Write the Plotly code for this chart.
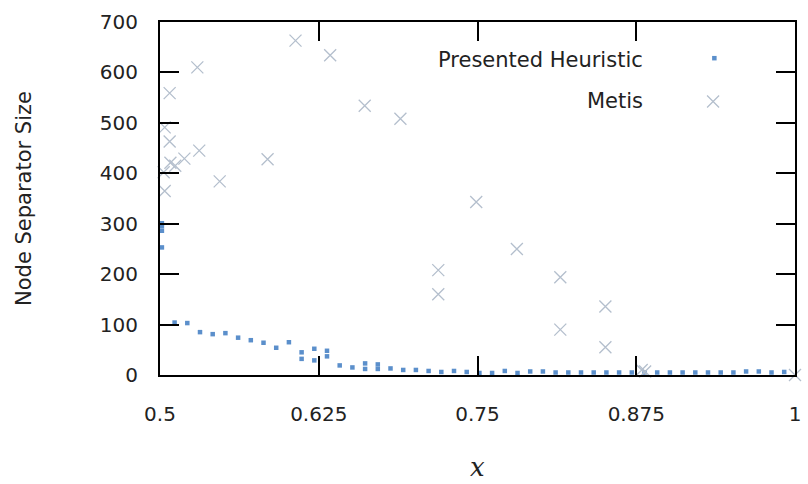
import plotly.graph_objects as go

# Presented heuristic: node separator size per x
heur_x = [0.5015, 0.5015, 0.5015, 0.5015,
          0.5115, 0.5215, 0.5315, 0.5415, 0.5515, 0.5615, 0.5715, 0.5815, 0.5915, 0.6015,
          0.6115, 0.6115, 0.6215, 0.6215, 0.6315, 0.6315, 0.6415, 0.6515, 0.6615, 0.6615,
          0.6715, 0.6715, 0.6815, 0.6915, 0.7015, 0.7115, 0.7215, 0.7315, 0.7415, 0.7515,
          0.7615, 0.7715, 0.7815, 0.7915, 0.8015, 0.8115, 0.8215, 0.8315, 0.8415, 0.8515,
          0.8615, 0.8715, 0.8815, 0.8915, 0.9015, 0.9115, 0.9215, 0.9315, 0.9415, 0.9515,
          0.9615, 0.9715, 0.9815, 0.9915]
heur_y = [301, 295, 286, 253,
          104, 103, 85, 81, 83, 74, 69, 64, 54, 65,
          45, 32, 52, 29, 48, 37, 19, 15, 23, 12,
          21, 12, 13, 10, 10, 8, 6, 8, 6, 4,
          4, 8, 4, 7, 7, 5, 5, 5, 5, 5,
          5, 5, 5, 5, 5, 5, 5, 5, 5, 5,
          7, 7, 5, 6]

# Metis: node separator size per x
metis_x = [0.5037, 0.5076, 0.5076, 0.5309, 0.5192, 0.5082, 0.5120, 0.5029, 0.5037,
           0.5470, 0.5294, 0.5847, 0.6067, 0.6340, 0.6612, 0.6893, 0.7490, 0.7191,
           0.7191, 0.7810, 0.8152, 0.8152, 0.8507, 0.8507, 0.8793, 0.8820, 1.0]
metis_y = [491, 559, 463, 445, 429, 421, 415, 402, 365,
           384, 610, 428, 663, 634, 534, 508, 343, 208,
           160, 250, 194, 90, 136, 55, 10, 7, 0]

x_ticks = [0.5, 0.625, 0.75, 0.875, 1.0]
x_tick_text = ["0.5", "0.625", "0.75", "0.875", "1"]
y_ticks = [0, 100, 200, 300, 400, 500, 600, 700]

series_names = ["Presented Heuristic", "Metis"]

BLUE = "#5b8fcb"
GREY = "#b4bfcd"
FONT = "DejaVu Sans"
TXT = "#222222"
TICK_FS = 20
TEXT_FS = 21

fig = go.Figure()

fig.add_trace(go.Scatter(
    x=heur_x, y=heur_y, mode="markers", name=series_names[0],
    marker=dict(symbol="square", size=4.5, color=BLUE, line=dict(width=0)),
    cliponaxis=False, showlegend=False))

fig.add_trace(go.Scatter(
    x=metis_x, y=metis_y, mode="markers", name=series_names[1],
    marker=dict(symbol="x-thin", size=12, line=dict(width=1.3, color=GREY)),
    cliponaxis=False, showlegend=False))

# Legend keys on an overlay axis spanning the plot area (0..1)
fig.add_trace(go.Scatter(
    x=[0.873], y=[0.8975], xaxis="x2", yaxis="y2", mode="markers",
    marker=dict(symbol="square", size=4.5, color=BLUE, line=dict(width=0)),
    cliponaxis=False, showlegend=False, hoverinfo="skip"))
fig.add_trace(go.Scatter(
    x=[0.871], y=[0.775], xaxis="x2", yaxis="y2", mode="markers",
    marker=dict(symbol="x-thin", size=12, line=dict(width=1.3, color=GREY)),
    cliponaxis=False, showlegend=False, hoverinfo="skip"))

axis_common = dict(
    showline=True, linecolor="black", linewidth=2, mirror="allticks",
    ticks="inside", ticklen=19, tickwidth=1.5, tickcolor="black",
    showgrid=False, zeroline=False,
    tickfont=dict(family=FONT, size=TICK_FS, color=TXT),
)

fig.update_layout(
    width=808, height=484,
    margin=dict(l=160, r=7, t=22, b=109),
    paper_bgcolor="white", plot_bgcolor="white",
    xaxis=dict(range=[0.5, 1.0], tickvals=x_ticks, ticktext=x_tick_text,
               ticklabelstandoff=20, **axis_common),
    yaxis=dict(range=[0, 700], tickvals=y_ticks, ticklabelstandoff=16, **axis_common),
    xaxis2=dict(range=[0, 1], overlaying="x", visible=False, fixedrange=True),
    yaxis2=dict(range=[0, 1], overlaying="y", visible=False, fixedrange=True),
    annotations=[
        dict(text=series_names[0], xref="paper", yref="paper", x=0.7635, y=0.8925,
             xanchor="right", yanchor="middle", showarrow=False,
             font=dict(family=FONT, size=TEXT_FS, color=TXT)),
        dict(text=series_names[1], xref="paper", yref="paper", x=0.7635, y=0.7765,
             xanchor="right", yanchor="middle", showarrow=False,
             font=dict(family=FONT, size=TEXT_FS, color=TXT)),
        dict(text="<i>x</i>", xref="paper", yref="paper", x=0.5, y=-0.262,
             xanchor="center", yanchor="middle", showarrow=False,
             font=dict(family="DejaVu Serif", size=26, color=TXT)),
        dict(text="Node Separator Size", xref="paper", yref="paper", x=-0.215, y=0.5,
             xanchor="center", yanchor="middle", textangle=-90, showarrow=False,
             font=dict(family=FONT, size=TEXT_FS, color=TXT)),
    ],
)

fig.write_html("out.html")
